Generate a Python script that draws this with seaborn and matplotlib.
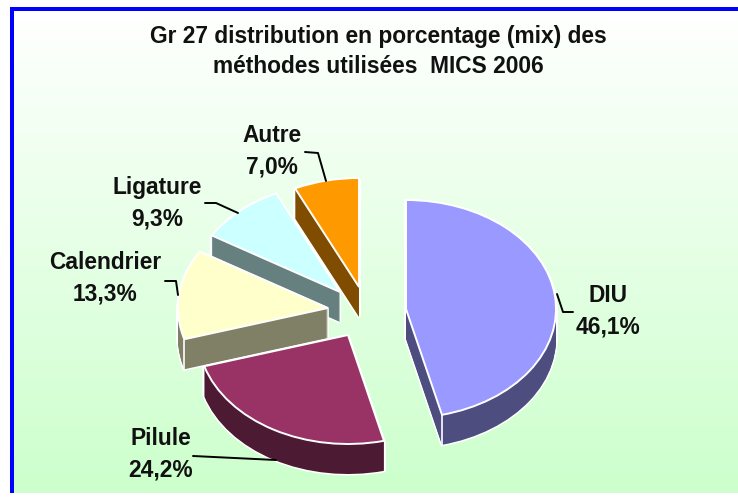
import matplotlib
matplotlib.use("Agg")
import matplotlib.pyplot as plt
from matplotlib.colors import LinearSegmentedColormap
from matplotlib.patches import Rectangle
import seaborn as sns
import numpy as np

# data
methods = ['DIU', 'Pilule', 'Calendrier', 'Ligature', 'Autre']
percent = [46.1, 24.2, 13.3, 9.3, 7.0]
pct_labels = ['46,1%', '24,2%', '13,3%', '9,3%', '7,0%']
title_lines = ['Gr 27 distribution en porcentage (mix) des',
               'méthodes utilisées  MICS 2006']

# style
top_colors = sns.color_palette(['#9999FF', '#993366', '#FFFFCC', '#CCFFFF', '#FF9900'])
side_colors = sns.color_palette(['#4D4D80', '#4D1A33', '#808066', '#668080', '#804D00'])
W, H = 738, 498
rx, ry = 150, 109
cx, cy = 350, 300
depth = 30
# where each exploded slice has its tip, in pixels
tips = [(406, 309), (348, 335), (328, 308), (340, 292), (359, 287)]
# back to front
zorders = [5, 4, 3, 2, 1]
label_pos = [(608, 311), (161, 454), (105, 278), (157, 203), (272, 151)]
leaders = [[(573, 312), (563, 312), (557, 294)],
           [(193, 456), (276, 460)],
           [(165, 281), (176, 281), (178, 295)],
           [(205, 203), (216, 203), (238, 213)],
           [(305, 152), (318, 153), (326, 181)]]

sns.set_theme(style='white')
plt.rcParams['font.family'] = ['Liberation Sans', 'DejaVu Sans']

fig = plt.figure(figsize=(W / 100, H / 100), dpi=100)

# background
bg = fig.add_axes([0, 0, 1, 1], zorder=0)
grad = LinearSegmentedColormap.from_list('g', ['#FFFFFF', '#CCFFCC'])
bg.imshow(np.linspace(0, 1, 256).reshape(-1, 1), cmap=grad, aspect='auto',
          extent=(14, W, 493, 11))
bg.add_patch(Rectangle((10, 7), W - 10, 4, color='#0000FF', lw=0))
bg.add_patch(Rectangle((10, 7), 4, 486, color='#0000FF', lw=0))
bg.set_xlim(0, W)
bg.set_ylim(H, 0)
bg.axis('off')

# pie, one unit is one radius, squashed through the axis limits
ax = fig.add_axes([0, 0, 1, 1], zorder=1)
ax.patch.set_alpha(0)


def draw_pie(drop, colors, edge, lw, z):
    wedges, _ = ax.pie(percent, colors=colors, startangle=90, counterclock=False,
                       wedgeprops=dict(edgecolor=edge, linewidth=lw))
    for i, w in enumerate(wedges):
        tx, ty = tips[i]
        w.set_center(((tx - cx) / rx, (cy - ty - drop) / ry))
        w.set_zorder(zorders[i] * 10 + z)


for d in range(depth, 0, -1):
    draw_pie(d, side_colors, 'white', 2.2, 0)
for d in range(depth, 0, -1):
    draw_pie(d, side_colors, 'none', 0, 1)
draw_pie(0, top_colors, 'white', 1.4, 3)

# white seam on the wall where the outer rim meets a cut face
ends = np.cumsum(percent) / 100 * 2 * np.pi
for i, theta in [(0, ends[0]), (2, ends[1])]:
    tx, ty = tips[i]
    x = (tx - cx) / rx + np.sin(theta)
    y = (cy - ty) / ry + np.cos(theta)
    ax.plot([x, x], [y, y - depth / ry], color='white', lw=1.2, zorder=zorders[i] * 10 + 2)

ax.set_aspect('auto')
ax.set_xlim(-cx / rx, (W - cx) / rx)
ax.set_ylim(-(H - cy) / ry, cy / ry)
ax.axis('off')

# text layer
ov = fig.add_axes([0, 0, 1, 1], zorder=2)
ov.patch.set_alpha(0)
ov.set_xlim(0, W)
ov.set_ylim(H, 0)
ov.axis('off')

ov.text(378, 36, title_lines[0], ha='center', va='center', fontsize=16.4, fontweight='bold', color='#111111')
ov.text(378, 66, title_lines[1], ha='center', va='center', fontsize=16.4, fontweight='bold', color='#111111')

for name, pct, (x, y), line in zip(methods, pct_labels, label_pos, leaders):
    ov.text(x, y, name + '\n' + pct, ha='center', va='center', fontsize=16.4,
            fontweight='bold', color='#111111', linespacing=1.5)
    xs, ys = zip(*line)
    ov.plot(xs, ys, color='black', lw=1.4)

fig.savefig('out.png', dpi=100)
